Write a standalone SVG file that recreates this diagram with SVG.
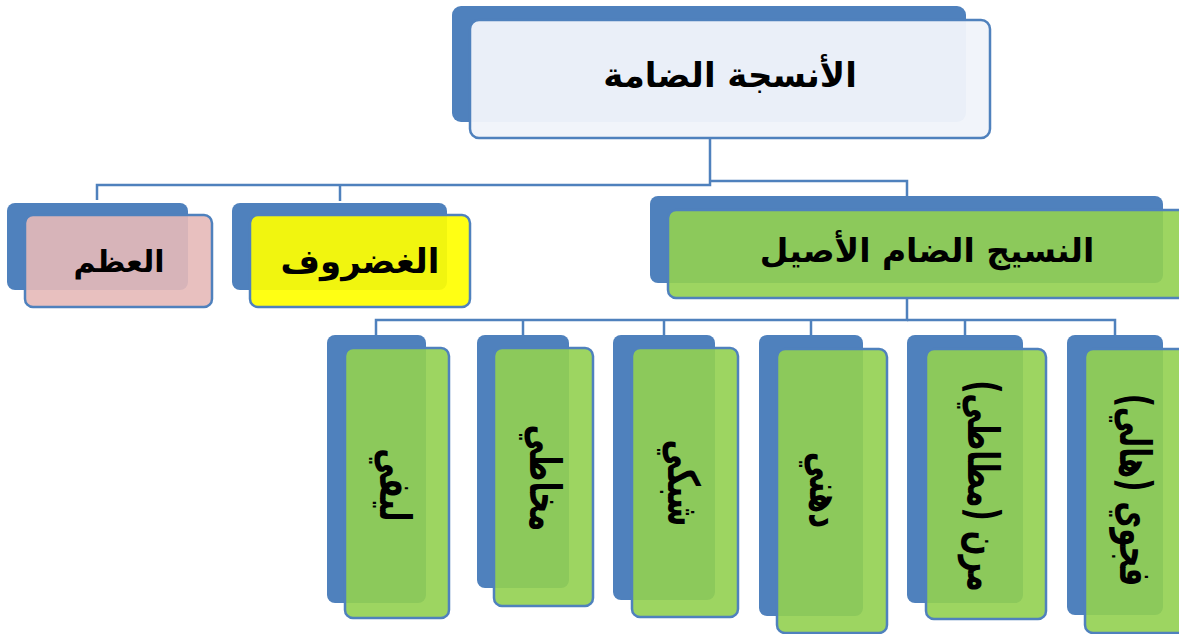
<svg xmlns="http://www.w3.org/2000/svg" width="1179" height="634" viewBox="0 0 1179 634">
<style>
.back{fill:#4F81BD;}
.front{stroke:#4F81BD;stroke-width:2.5;}
.title{fill:#F0F4FA;fill-opacity:0.96;}
.green{fill:#92D050;fill-opacity:0.9;}
.pink{fill:#E6B9B8;fill-opacity:0.9;}
.yellow{fill:#FFFF00;fill-opacity:0.92;}
.lbl{font-family:"DejaVu Sans","Noto Sans",sans-serif;font-weight:bold;fill:#000;text-anchor:middle;dominant-baseline:central;}
.vlbl{font-size:44px;}
.conn{fill:none;stroke:#4F81BD;stroke-width:2.5;}
</style>
<rect width="1179" height="634" fill="#FFFFFF"/>
<g id="connectors">
<path class="conn" d="M710,138 V185 H97 V200"/>
<path class="conn" d="M710,181 H907 V196"/>
<path class="conn" d="M340,185 V201"/>
<path class="conn" d="M907,298 V320 H376 V335"/>
<path class="conn" d="M907,320 H1115 V335"/>
<path class="conn" d="M523,320 V335"/>
<path class="conn" d="M664,320 V335"/>
<path class="conn" d="M811,320 V335"/>
<path class="conn" d="M965,320 V335"/>
</g>
<g id="node-root">
<rect class="back" x="452" y="6" width="514" height="116" rx="9"/>
<rect class="front title" x="470" y="20" width="520" height="118" rx="9"/>
<text class="lbl" x="730" y="75" font-size="34">الأنسجة الضامة</text>
</g>
<g id="node-bone">
<rect class="back" x="7" y="203" width="181" height="87" rx="8"/>
<rect class="front pink" x="25" y="215" width="187" height="92" rx="8"/>
<text class="lbl" x="119" y="261" font-size="30">العظم</text>
</g>
<g id="node-cartilage">
<rect class="back" x="232" y="203" width="215" height="87" rx="8"/>
<rect class="front yellow" x="250" y="215" width="220" height="92" rx="8"/>
<text class="lbl" x="360" y="261" font-size="34">الغضروف</text>
</g>
<g id="node-proper">
<rect class="back" x="650" y="196" width="513" height="87" rx="8"/>
<rect class="front green" x="668" y="210" width="520" height="88" rx="8"/>
<text class="lbl" x="927" y="250" font-size="33">النسيج الضام الأصيل</text>
</g>
<g id="node-fibrous">
<rect class="back" x="327" y="335" width="99" height="268" rx="8"/>
<rect class="front green" x="345" y="348" width="104" height="270" rx="8"/>
<text class="lbl vlbl" x="0" y="0" transform="translate(395 485) rotate(90) scale(0.66 1)">ليفي</text>
</g>
<g id="node-mucous">
<rect class="back" x="477" y="335" width="92" height="253" rx="8"/>
<rect class="front green" x="494" y="348" width="99" height="258" rx="8"/>
<text class="lbl vlbl" x="0" y="0" transform="translate(545 478) rotate(90) scale(0.66 1)">مخاطي</text>
</g>
<g id="node-reticular">
<rect class="back" x="613" y="335" width="102" height="265" rx="8"/>
<rect class="front green" x="632" y="348" width="106" height="269" rx="8"/>
<text class="lbl vlbl" x="0" y="0" transform="translate(683 483) rotate(90) scale(0.66 1)">شبكي</text>
</g>
<g id="node-adipose">
<rect class="back" x="759" y="335" width="104" height="281" rx="8"/>
<rect class="front green" x="777" y="349" width="110" height="284" rx="8"/>
<text class="lbl vlbl" x="0" y="0" transform="translate(825 490) rotate(90) scale(0.66 1)">دهني</text>
</g>
<g id="node-elastic">
<rect class="back" x="907" y="335" width="116" height="268" rx="8"/>
<rect class="front green" x="926" y="349" width="120" height="270" rx="8"/>
<text class="lbl vlbl" x="0" y="0" transform="translate(983 486) rotate(90) scale(0.66 1)">مرن (مطاطي)</text>
</g>
<g id="node-areolar">
<rect class="back" x="1067" y="335" width="96" height="280" rx="8"/>
<rect class="front green" x="1085" y="349" width="110" height="284" rx="8"/>
<text class="lbl vlbl" x="0" y="0" transform="translate(1135 490) rotate(90) scale(0.66 1)">فجوي (هالي)</text>
</g>
</svg>
